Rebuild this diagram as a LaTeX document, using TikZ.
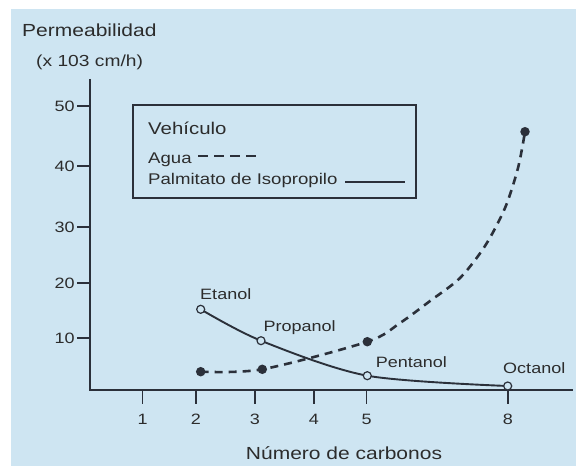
\documentclass[tikz,border=0pt]{standalone}
\usepackage{fontspec}
\setmainfont{Liberation Sans}
\usetikzlibrary{positioning}
\definecolor{fondo}{HTML}{CEE5F2}
\definecolor{trazo}{HTML}{2B303A}
\definecolor{texto}{HTML}{2C2C2C}
\tikzset{
  eje/.style={line width=1.5pt, draw=trazo},
  etiq/.style={text=texto, inner sep=0pt, xscale=1.2, font=\fontsize{15}{18}\selectfont},
  abierto/.style={circle, draw=trazo, fill=fondo, line width=1.2pt, inner sep=0pt, minimum size=8pt},
  lleno/.style={circle, fill=trazo, inner sep=0pt, minimum size=9.5pt},
  aceite/.style={line width=1.9pt, draw=trazo},
  agua/.style={line width=2.6pt, draw=trazo, dash pattern=on 8pt off 6pt},
}

\begin{document}
\begin{tikzpicture}[x=1pt,y=1pt]
  \useasboundingbox (0,0) rectangle (576,466);
  \fill[fondo] (11,0) rectangle (576,457);
  % ejes
  \coordinate (ytop) at (90,387);
  \coordinate (xfin) at (573,76);
  \draw[eje] (ytop) |- (xfin);
  \foreach \v/\h in {10/128,20/183,30/239,40/300,50/360}{
    \draw[eje] (77,\h) -- (90,\h);
    \node[etiq, anchor=east] at (75,\h) {\v};
  }
  \foreach \n/\p in {1/142.7,2/196,3/255,4/314,5/366.7,8/508}{
    \draw[eje] (\p,76) -- (\p,62);
    \node[etiq, anchor=base] at (\p,41) {\n};
  }
  \node[etiq, anchor=base west, font=\fontsize{17.5}{20}\selectfont] (titulo) at (22,429) {Permeabilidad};
  \node[etiq, anchor=base west, font=\fontsize{16}{19}\selectfont] (unidad) at (36,399) {(x 103 cm/h)};
  \node[etiq, anchor=base, font=\fontsize{17.5}{20}\selectfont] (xtitulo) at (344,6) {Número de carbonos};
  % leyenda
  \draw[eje] (133,361) rectangle (416,268);
  \node[etiq, anchor=base west, font=\fontsize{17}{20}\selectfont] (vehiculo) at (148,331.7) {Vehículo};
  \node[etiq, anchor=base west, font=\fontsize{15.5}{18}\selectfont] (lagua) at (148,302.7) {Agua};
  \node[etiq, anchor=base west, font=\fontsize{15.5}{18}\selectfont] (laceite) at (148,281) {Palmitato de Isopropilo};
  \coordinate (d1) at (198,310);
  \coordinate (d2) at (256,310);
  \draw[agua, line width=2pt, dash pattern=on 10pt off 6pt] (d1) -- (d2);
  \coordinate (s1) at (345,283.7);
  \coordinate (s2) at (405,283.7);
  \draw[aceite] (s1) -- (s2);
  % datos
  \coordinate (eta) at (200.7,156.7);
  \coordinate (pro) at (261,125.3);
  \coordinate (pen) at (367.3,90.3);
  \coordinate (oct) at (507.7,80);
  \coordinate (a2) at (200.7,94.3);
  \coordinate (a3) at (262.3,96.7);
  \coordinate (a5) at (367.3,124.3);
  \coordinate (a8) at (525,334.3);
  \draw[aceite] plot[smooth] coordinates {(eta) (pro) (pen) (oct)};
  \draw[agua] plot[smooth] coordinates {(a2) (a3) (a5) (400,143) (430,165) (460,188)
    (485,220) (505,258) (518,298) (a8)};
  \foreach \c in {eta,pro,pen,oct}
    \node[abierto] at (\c) {};
  \foreach \c in {a2,a3,a5,a8}
    \node[lleno] at (\c) {};
  \node[etiq, anchor=base west] (letanol) at (200,166.7) {Etanol};
  \node[etiq, anchor=base west] (lpropanol) at (263.3,134.3) {Propanol};
  \node[etiq, anchor=base west] (lpentanol) at (375.7,98.7) {Pentanol};
  \node[etiq, anchor=base west] (loctanol) at (503,92.7) {Octanol};
\end{tikzpicture}
\end{document}
